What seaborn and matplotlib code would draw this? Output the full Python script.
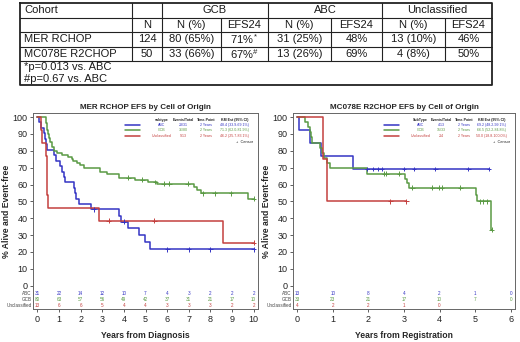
import numpy as np
import pandas as pd
import matplotlib
matplotlib.use("Agg")
import matplotlib.pyplot as plt
import seaborn as sns

sns.set_style("white")
plt.rcParams['font.family'] = ['Liberation Sans', 'DejaVu Sans']
plt.rcParams['mathtext.default'] = 'regular'

# ---- table data ----
cohorts = ["MER RCHOP", "MC078E R2CHOP"]
cohort_n = ["124", "50"]
gcb_n = ["80 (65%)", "33 (66%)"]
gcb_efs = ["71%$^*$", "67%$^\\#$"]
abc_n = ["31 (25%)", "13 (26%)"]
abc_efs = ["48%", "69%"]
unc_n = ["13 (10%)", "4 (8%)"]
unc_efs = ["46%", "50%"]
footnotes = ["*p=0.013 vs. ABC", "#p=0.67 vs. ABC"]

# ---- MER RCHOP curves (years, % event-free) ----
mer_abc_t = [0, 0.06, 0.17, 0.29, 0.37, 0.41, 0.45, 0.79, 0.88, 1.04, 1.15, 1.22, 1.30, 1.69, 1.75, 1.81,
             1.92, 2.50, 3.78, 3.86, 4.20, 4.70, 4.98, 5.23, 10.0]
mer_abc_s = [100, 96.8, 93.5, 90.3, 87.1, 83.9, 80.6, 77.4, 74.2, 71.0, 67.7, 64.5, 61.3, 58.1, 54.8, 51.6,
             48.4, 45.2, 41.6, 37.9, 34.1, 30.3, 26.0, 21.6, 21.6]
mer_abc_c = [2.6, 4.0, 6.0, 7.0, 8.0, 10.0]
mer_gcb_t = [0, 0.40, 0.44, 0.50, 0.55, 0.60, 0.67, 0.79, 0.90, 1.16, 1.44, 1.60, 1.67, 1.83, 1.95, 2.15,
             2.90, 3.20, 3.77, 4.50, 5.10, 5.55, 7.25, 7.40, 7.55, 9.73, 10.0]
mer_gcb_s = [100, 96.3, 92.5, 90.0, 87.5, 85.0, 82.5, 80.0, 78.8, 77.5, 76.3, 75.0, 73.8, 72.5, 71.3, 70.0,
             67.5, 66.2, 64.0, 62.8, 61.5, 60.6, 58.7, 56.8, 54.8, 51.6, 51.6]
mer_gcb_c = [4.2, 4.85, 5.45, 5.85, 6.1, 6.95, 7.65, 8.2, 8.95, 10.0]
mer_unc_t = [0, 0.15, 0.22, 0.40, 0.43, 0.45, 0.47, 0.49, 2.85, 8.57, 10.0]
mer_unc_s = [100, 92.3, 84.6, 76.9, 69.2, 61.5, 53.8, 46.2, 38.5, 25.6, 25.6]
mer_unc_c = [3.3, 5.4, 10.0]

# ---- MC078E R2CHOP curves ----
mc_abc_t = [0, 0.04, 0.37, 0.67, 1.58, 5.39]
mc_abc_s = [100, 92.3, 84.6, 76.9, 69.2, 69.2]
mc_abc_c = [1.97, 2.14, 2.28, 2.37, 3.0, 3.28, 3.88, 4.81, 5.39]
mc_gcb_t = [0, 0.22, 0.30, 0.35, 0.38, 0.42, 0.63, 0.70, 0.74, 0.83, 0.93, 1.95, 3.04, 3.09, 3.14,
            5.02, 5.06, 5.45, 5.47]
mc_gcb_s = [100, 97.0, 93.9, 90.9, 87.9, 84.8, 81.8, 78.8, 75.8, 72.7, 69.7, 66.5, 63.3, 61.0, 58.2,
            54.0, 50.0, 33.3, 33.3]
mc_gcb_c = [2.44, 2.5, 2.86, 3.23, 3.79, 3.97, 4.07, 4.58, 5.14, 5.23, 5.33, 5.47]
mc_unc_t = [0, 0.73, 0.84, 3.07]
mc_unc_s = [100, 75.0, 50.0, 50.0]
mc_unc_c = [2.62, 3.07]

# ---- numbers at risk ----
mer_risk_years = list(range(11))
mer_risk_abc = [31, 22, 14, 12, 10, 7, 4, 3, 2, 2, 2]
mer_risk_gcb = [80, 63, 57, 56, 49, 42, 37, 31, 21, 17, 10]
mer_risk_unc = [13, 6, 6, 5, 4, 4, 3, 3, 3, 2, 2]
mc_risk_years = list(range(7))
mc_risk_abc = [13, 10, 8, 4, 2, 1, 0]
mc_risk_gcb = [33, 23, 21, 17, 10, 7, 0]
mc_risk_unc = [4, 2, 2, 1, 0, None, None]

# ---- legend text ----
mer_leg = [["ABC", "23/31", "2 Years", "48.4 (33.9-69.1%)"],
           ["GCB", "36/80", "2 Years", "71.3 (62.0-81.9%)"],
           ["Unclassified", "9/13", "2 Years", "46.2 (25.7-83.1%)"]]
mc_leg = [["ABC", "4/13", "2 Years", "69.2 (48.2-99.1%)"],
          ["GCB", "15/33", "2 Years", "66.5 (52.2-84.8%)"],
          ["Unclassified", "2/4", "2 Years", "50.0 (18.8-100.0%)"]]

subtypes = ["ABC", "GCB", "Unclassified"]
pal = {"ABC": "#3434c4", "GCB": "#5a9a44", "Unclassified": "#c4403e"}
grey = "#444444"

fig = plt.figure(figsize=(5.2, 3.42), dpi=100)

# ---------- table ----------
tax = fig.add_axes([0, 1 - 88 / 342, 1, 88 / 342])
tax.set_xlim(0, 520)
tax.set_ylim(88, 0)
tax.axis("off")
xe = [20, 132, 162, 221, 268, 331, 382, 445, 492]
ye = [3, 17.5, 32, 46.5, 61, 85]
lc = "#222222"
tax.plot([xe[0], xe[-1], xe[-1], xe[0], xe[0]], [ye[0], ye[0], ye[-1], ye[-1], ye[0]], color=lc, lw=1.3)
for y in ye[1:-1]:
    tax.plot([xe[0], xe[-1]], [y, y], color=lc, lw=0.8)
for x in [xe[1], xe[2], xe[4], xe[6]]:
    tax.plot([x, x], [ye[0], ye[4]], color=lc, lw=0.8)
for x in [xe[3], xe[5], xe[7]]:
    tax.plot([x, x], [ye[1], ye[4]], color=lc, lw=0.8)

fs = 8
tc = "#1a1a1a"
def mid(i, j):
    return (xe[i] + xe[j]) / 2
tax.text(24, (ye[0] + ye[1]) / 2, "Cohort", fontsize=fs, va="center", color=tc)
for i, name in enumerate(["GCB", "ABC", "Unclassified"]):
    tax.text(mid(2 + 2 * i, 4 + 2 * i), (ye[0] + ye[1]) / 2, name, fontsize=fs, ha="center",
             va="center", color=tc)
for i, name in enumerate(["N", "N (%)", "EFS24", "N (%)", "EFS24", "N (%)", "EFS24"]):
    tax.text(mid(1 + i, 2 + i), (ye[1] + ye[2]) / 2, name, fontsize=fs, ha="center", va="center", color=tc)
for r in range(2):
    yc = (ye[2 + r] + ye[3 + r]) / 2
    tax.text(24, yc, cohorts[r], fontsize=fs, va="center", color=tc)
    vals = [cohort_n[r], gcb_n[r], gcb_efs[r], abc_n[r], abc_efs[r], unc_n[r], unc_efs[r]]
    for i, v in enumerate(vals):
        tax.text(mid(1 + i, 2 + i), yc, v, fontsize=fs, ha="center", va="center", color=tc)
tax.text(24, 67, footnotes[0], fontsize=fs, va="center", color=tc)
tax.text(24, 79, footnotes[1], fontsize=fs, va="center", color=tc)


def step_value(t, s, c):
    idx = np.searchsorted(t, c, side="right") - 1
    return np.array(s)[idx]


def km_panel(ax, curves, risk_years, risks, leg_rows, leg_head, xmax, title, xlabel):
    frames, cframes = [], []
    for name, (t, s, c) in zip(subtypes, curves):
        frames.append(pd.DataFrame({"years": t, "pct": s, "subtype": name}))
        cframes.append(pd.DataFrame({"years": c, "pct": step_value(t, s, c), "subtype": name}))
    df = pd.concat(frames, ignore_index=True)
    cdf = pd.concat(cframes, ignore_index=True)
    sns.lineplot(data=df, x="years", y="pct", hue="subtype", palette=pal, estimator=None,
                 drawstyle="steps-post", lw=1.1, legend=False, ax=ax)
    sns.scatterplot(data=cdf, x="years", y="pct", hue="subtype", palette=pal, marker="+",
                    s=12, linewidth=0.7, legend=False, ax=ax, zorder=4)
    ax.set_xlim(-0.02 * xmax, xmax * 1.02)
    ax.set_ylim(-13.8, 102.4)
    ax.set_yticks(range(0, 101, 10))
    ax.set_xticks(range(0, xmax + 1))
    ax.tick_params(axis="both", labelsize=6.5, length=2.5, width=0.6, color=grey,
                   labelcolor="#222222", pad=1.5, direction="out", left=True, bottom=True)
    for sp in ax.spines.values():
        sp.set_color("#666666")
        sp.set_linewidth(0.7)
    ax.set_title(title, fontsize=5.8, fontweight="bold", pad=3)
    ax.set_xlabel(xlabel, fontsize=6.2, fontweight="bold", labelpad=5)
    ax.set_ylabel("% Alive and Event-free", fontsize=6.2, fontweight="bold", labelpad=1)
    # numbers at risk
    for k, (name, row) in enumerate(zip(subtypes, risks)):
        yv = -4.7 - 3.6 * k
        ax.text(-0.025 * xmax, yv, name, fontsize=3.3, color=grey, ha="right", va="center")
        for x, n in zip(risk_years, row):
            if n is not None:
                ax.text(x, yv, str(n), fontsize=3.3, color=pal[name], ha="center", va="center")
    # legend
    tr = ax.transAxes
    hy = 0.966
    cols = [0.573, 0.668, 0.77, 0.895]
    for x, h in zip(cols, leg_head):
        ax.text(x, hy, h, fontsize=2.6, fontweight="bold", color="#222222", ha="center",
                va="center", transform=tr)
    for k, (name, row) in enumerate(zip(subtypes, leg_rows)):
        yy = 0.939 - 0.028 * k
        ax.plot([0.409, 0.476], [yy, yy], color=pal[name], lw=1.1, transform=tr)
        for x, v in zip(cols, row):
            ax.text(x, yy, v, fontsize=2.6, color=pal[name], ha="center", va="center", transform=tr)
    ax.text(0.978, 0.854, "+  Censor", fontsize=2.8, color="#222222", ha="right", va="center",
            transform=tr)


ax1 = fig.add_axes([33 / 520, 33 / 342, 225 / 520, 196 / 342])
km_panel(ax1,
         [(mer_abc_t, mer_abc_s, mer_abc_c), (mer_gcb_t, mer_gcb_s, mer_gcb_c),
          (mer_unc_t, mer_unc_s, mer_unc_c)],
         mer_risk_years, [mer_risk_abc, mer_risk_gcb, mer_risk_unc], mer_leg,
         ["subtype", "Events/Total", "Time-Point", "KM Est (95% CI)"], 10,
         "MER RCHOP EFS by Cell of Origin", "Years from Diagnosis")

ax2 = fig.add_axes([293 / 520, 33 / 342, 222 / 520, 196 / 342])
km_panel(ax2,
         [(mc_abc_t, mc_abc_s, mc_abc_c), (mc_gcb_t, mc_gcb_s, mc_gcb_c),
          (mc_unc_t, mc_unc_s, mc_unc_c)],
         mc_risk_years, [mc_risk_abc, mc_risk_gcb, mc_risk_unc], mc_leg,
         ["SubType", "Events/Total", "Time-Point", "KM Est (95% CI)"], 6,
         "MC078E R2CHOP EFS by Cell of Origin", "Years from Registration")

fig.savefig("out.png", dpi=100)
